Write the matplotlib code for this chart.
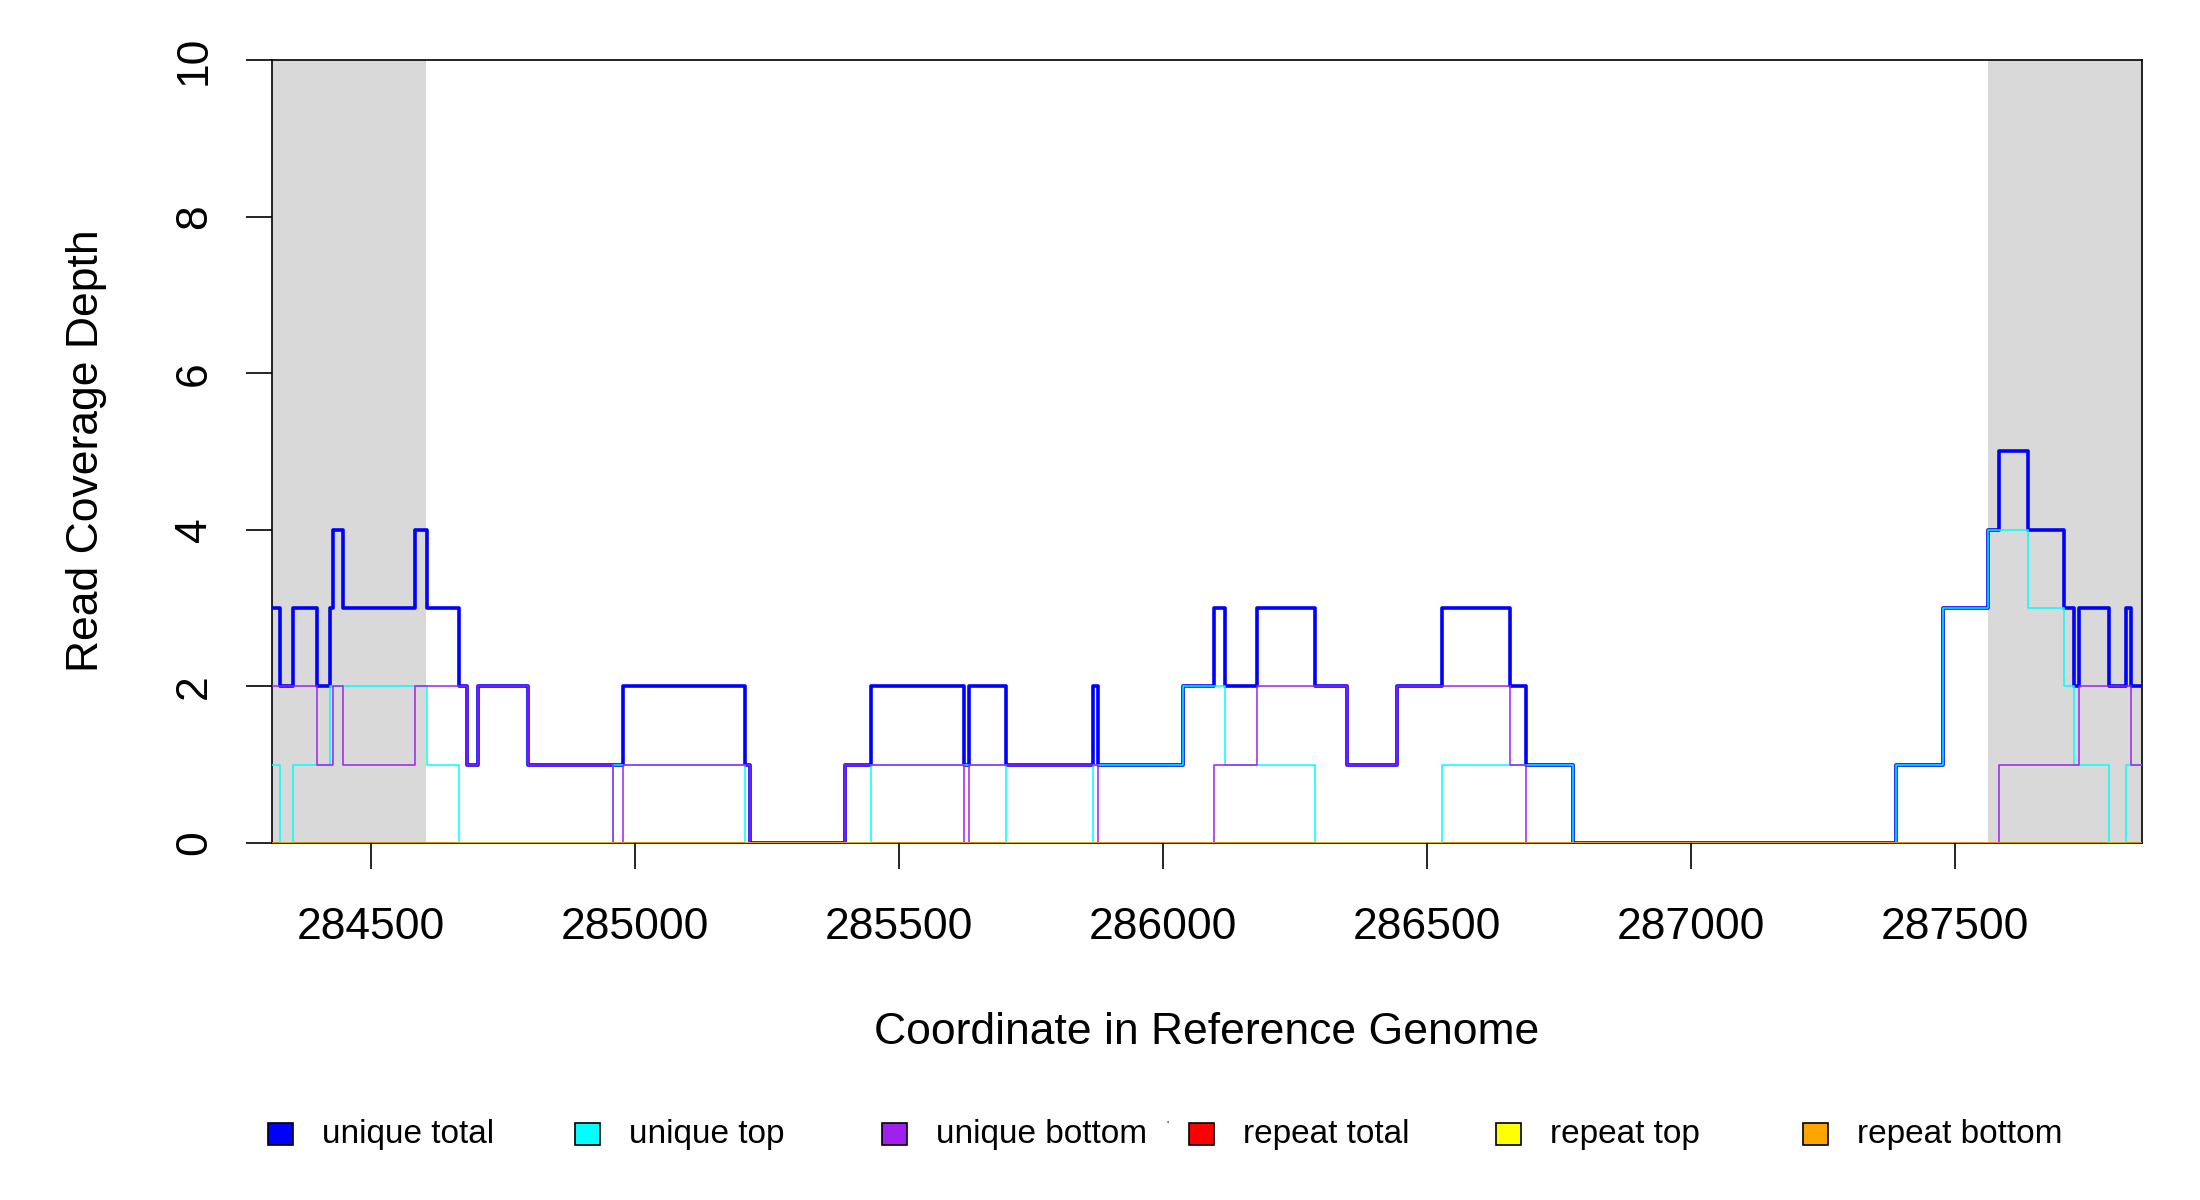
import numpy as np
import matplotlib
matplotlib.use("Agg")
from matplotlib import pyplot as plt
from matplotlib.patches import Rectangle

plt.rcParams['font.family'] = ['Liberation Sans', 'DejaVu Sans']

# window shown
x_start = 284312
x_end = 287854

# shaded flank regions
shade_regions = [(284312, 284604), (287562, 287854)]

# step breakpoints (value holds until next breakpoint)
total_x = [284312, 284328, 284352, 284397, 284422, 284427, 284446, 284582, 284605, 284667,
           284682, 284702, 284797, 284977, 285207, 285217, 285398, 285447, 285622, 285632,
           285702, 285868, 285877, 286037, 286097, 286117, 286177, 286288, 286348, 286442,
           286528, 286657, 286688, 286777, 287388, 287478, 287563, 287583, 287638, 287707,
           287726, 287734, 287792, 287823, 287833, 287854]
total_y = [3, 2, 3, 2, 3, 4, 3, 4, 3, 2,
           1, 2, 1, 2, 1, 0, 1, 2, 1, 2,
           1, 2, 1, 2, 3, 2, 3, 2, 1, 2,
           3, 2, 1, 0, 1, 3, 4, 5, 4, 3,
           2, 3, 2, 3, 2, 2]

top_x = [284312, 284328, 284352, 284422, 284605, 284667, 284958, 285207, 285447, 285702,
         285868, 286037, 286117, 286288, 286528, 286777, 287388, 287478, 287563, 287638,
         287707, 287726, 287792, 287823, 287854]
top_y = [1, 0, 1, 2, 1, 0, 1, 0, 1, 0,
         1, 2, 1, 0, 1, 0, 1, 3, 4, 3,
         2, 1, 0, 1, 1]

bottom_x = [284312, 284397, 284427, 284446, 284582, 284682, 284702, 284797, 284958, 284977,
            285217, 285398, 285622, 285632, 285877, 286097, 286177, 286348, 286442, 286657,
            286688, 287583, 287734, 287833, 287854]
bottom_y = [2, 1, 2, 1, 2, 1, 2, 1, 0, 1,
            0, 1, 0, 1, 0, 1, 2, 1, 2, 1,
            0, 1, 2, 1, 1]

repeat_x = [284312, 287854]
repeat_total = [0, 0]
repeat_top = [0, 0]
repeat_bottom = [0, 0]

labels = ["unique total", "unique top", "unique bottom", "repeat total", "repeat top", "repeat bottom"]
colors = ["#0000FF", "#00FFFF", "#A020F0", "#FF0000", "#FFFF00", "#FFA500"]

W, H = 2200, 1200
fig = plt.figure(figsize=(11, 6), dpi=200)
ax = fig.add_axes([272 / W, 1 - 843 / H, (2142 - 272) / W, (843 - 60) / H])

for a, b in shade_regions:
    ax.axvspan(a, b, color="#D9D9D9", lw=0, zorder=0)

ax.step(total_x, total_y, where="post", color=colors[0], lw=1.3, zorder=3)
ax.step(top_x, top_y, where="post", color=colors[1], lw=0.55, zorder=4)
ax.step(bottom_x, bottom_y, where="post", color=colors[2], lw=0.55, zorder=5)
ax.step(repeat_x, repeat_total, where="post", color=colors[3], lw=0.6, alpha=0.5, zorder=6)
ax.step(repeat_x, repeat_top, where="post", color=colors[4], lw=0.6, alpha=0.5, zorder=7)
ax.step(repeat_x, repeat_bottom, where="post", color=colors[5], lw=0.6, alpha=0.5, zorder=8)

ax.set_xlim(x_start, x_end)
ax.set_ylim(0, 10)
ax.set_xticks([284500, 285000, 285500, 286000, 286500, 287000, 287500])
ax.set_yticks([0, 2, 4, 6, 8, 10])
ax.tick_params(axis="both", length=9.5, width=0.6, labelsize=16)
ax.tick_params(axis="x", pad=13.5)
ax.tick_params(axis="y", pad=11)
for lab in ax.get_yticklabels():
    lab.set_rotation(90)
    lab.set_va("center")
for s in ax.spines.values():
    s.set_linewidth(0.6)

fig.text(87 / W, 1 - 451 / H, "Read Coverage Depth", rotation=90, ha="center", va="center", fontsize=16)
fig.text(1207 / W, 1 - 1033 / H, "Coordinate in Reference Genome", ha="center", va="center", fontsize=16)

# legend along the bottom
box_x = [280, 587, 894, 1201, 1508, 1815]
leg_y = 1134
for bx, lab, c in zip(box_x, labels, colors):
    fig.add_artist(Rectangle(((bx - 12.5) / W, 1 - (leg_y + 11) / H), 25 / W, 22 / H,
                             transform=fig.transFigure, facecolor=c, edgecolor="black", lw=0.6))
    fig.text((bx + 42) / W, 1 - leg_y / H, lab, ha="left", va="center", fontsize=12)

fig.text(1167 / W, 1 - 1126 / H, "'", ha="center", va="center", fontsize=4)

fig.savefig("out.png", dpi=200)
